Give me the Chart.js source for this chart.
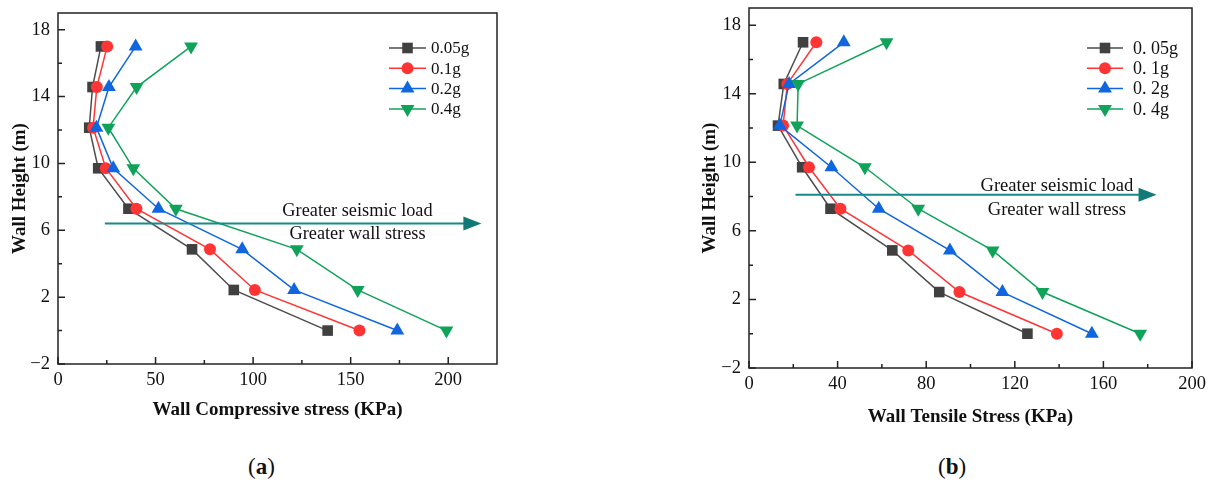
<!DOCTYPE html>
<html>
<head>
<meta charset="utf-8">
<script src="https://cdn.jsdelivr.net/npm/chart.js@4.4.1/dist/chart.umd.min.js"></script>
<style>
  body { margin: 0; background: #fff; width: 1222px; height: 488px; position: relative; overflow: hidden; font-family: "Liberation Serif", "Times New Roman", serif; }
  .box { position: absolute; top: 0; }
  .sub { position: absolute; top: 454px; font-size: 23px; color: #111; }
</style>
</head>
<body>
<div class="box" style="left:0"><canvas id="chartA" width="512" height="425"></canvas></div>
<div class="box" style="left:690px"><canvas id="chartB" width="532" height="432"></canvas></div>
<div class="sub" style="left:248px">(<b>a</b>)</div>
<div class="sub" style="left:938px">(<b>b</b>)</div>
<script>
// wall heights (m), top of wall first
const heights = [17, 14.57, 12.14, 9.71, 7.29, 4.86, 2.43, 0];

// (a) compressive stress, KPa
const namesA = ['0.05g', '0.1g', '0.2g', '0.4g'];
const compA005 = [22.0, 17.7, 16.0, 20.6, 36.1, 68.7, 90.1, 138.2];
const compA01 = [25.2, 19.9, 18.0, 24.5, 40.2, 77.9, 100.9, 154.5];
const compA02 = [39.8, 26.1, 19.7, 28.3, 51.5, 94.4, 121.0, 173.9];
const compA04 = [68.2, 40.3, 25.8, 38.6, 60.4, 122.4, 153.6, 199.1];

// (b) tensile stress, KPa
const namesB = ['0. 05g', '0. 1g', '0. 2g', '0. 4g'];
const tensB005 = [24.4, 15.7, 13.1, 24.0, 36.8, 64.7, 85.9, 125.7];
const tensB01 = [30.4, 17.3, 15.4, 27.1, 41.3, 71.9, 95.0, 139.0];
const tensB02 = [42.8, 18.1, 13.9, 37.2, 58.6, 90.7, 114.4, 154.8];
const tensB04 = [62.1, 22.2, 21.7, 52.3, 76.4, 110.0, 132.5, 176.6];

const yTicks = [-2, 2, 6, 10, 14, 18];
const xTicksA = [0, 50, 100, 150, 200];
const xTicksB = [0, 40, 80, 120, 160, 200];

const FONT = "'Liberation Serif', 'Times New Roman', serif";

const styles = [
    { color: '#404040', line: '#4d4d4d', point: 'rect', radius: 7.5, rot: 0 },
    { color: '#ff3535', line: '#ff3535', point: 'circle', radius: 6, rot: 0 },
    { color: '#0f66de', line: '#0f66de', point: 'triangle', radius: 8, rot: 0 },
    { color: '#0fa35a', line: '#0fa35a', point: 'triangle', radius: 8, rot: 180 }
];

const decor = {
    id: 'decor',
    afterDraw(chart, args, o) {
        const ctx = chart.ctx;
        const a = chart.chartArea;
        const xs = chart.scales.x, ys = chart.scales.y;
        ctx.save();
        // frame
        ctx.strokeStyle = '#222';
        ctx.lineWidth = 1.5;
        ctx.strokeRect(a.left, a.top, a.right - a.left, a.bottom - a.top);
        // inward ticks
        ctx.beginPath();
        o.xTicks.forEach((v) => {
            const px = xs.getPixelForValue(v);
            ctx.moveTo(px, a.bottom); ctx.lineTo(px, a.bottom - 7);
            const m = xs.getPixelForValue(v + o.xStep / 2);
            if (m < a.right) { ctx.moveTo(m, a.bottom); ctx.lineTo(m, a.bottom - 4); }
        });
        yTicks.forEach((v) => {
            const py = ys.getPixelForValue(v);
            ctx.moveTo(a.left, py); ctx.lineTo(a.left + 7, py);
            const m = ys.getPixelForValue(v + 2);
            if (m > a.top) { ctx.moveTo(a.left, m); ctx.lineTo(a.left + 4, m); }
        });
        ctx.stroke();

        // arrow
        const ay = ys.getPixelForValue(o.arrow.y);
        const ax0 = xs.getPixelForValue(o.arrow.x0);
        const ax1 = xs.getPixelForValue(o.arrow.x1);
        ctx.strokeStyle = '#16898a';
        ctx.lineWidth = 2;
        ctx.beginPath();
        ctx.moveTo(ax0, ay); ctx.lineTo(ax1 - 14, ay);
        ctx.stroke();
        ctx.fillStyle = '#127a76';
        ctx.beginPath();
        ctx.moveTo(ax1, ay); ctx.lineTo(ax1 - 18, ay - 7); ctx.lineTo(ax1 - 18, ay + 7);
        ctx.closePath(); ctx.fill();
        ctx.fillStyle = '#111';
        ctx.font = o.arrow.size + 'px ' + FONT;
        ctx.textAlign = 'center';
        ctx.textBaseline = 'middle';
        const tx = xs.getPixelForValue(o.arrow.tx);
        ctx.fillText('Greater seismic load', tx, ay + o.arrow.d1);
        ctx.fillText('Greater wall stress', tx, ay + o.arrow.d2);

        // legend
        const L = o.legend;
        ctx.textAlign = 'left';
        ctx.font = L.size + 'px ' + FONT;
        chart.data.datasets.forEach((ds, i) => {
            const y = a.top + L.top + i * L.gap;
            const x0 = a.right + L.x0, x1 = a.right + L.x1;
            ctx.strokeStyle = ds.borderColor;
            ctx.lineWidth = 1.5;
            ctx.beginPath(); ctx.moveTo(x0, y); ctx.lineTo(x1, y); ctx.stroke();
            ctx.fillStyle = ds.backgroundColor;
            ctx.strokeStyle = ds.backgroundColor;
            Chart.helpers.drawPoint(ctx, {
                pointStyle: ds.pointStyle, radius: ds.pointRadius,
                rotation: ds.pointRotation, borderWidth: 0
            }, (x0 + x1) / 2, y);
            ctx.fillStyle = '#111';
            ctx.fillText(ds.label, a.right + L.tx, y + 1);
        });
        ctx.restore();
    }
};

function makeChart(id, names, series, cfg) {
    const datasets = series.map((vals, i) => ({
        label: names[i],
        data: vals.map((v, k) => ({ x: v, y: heights[k] })),
        showLine: true,
        borderColor: styles[i].line,
        backgroundColor: styles[i].color,
        borderWidth: 1.5,
        pointStyle: styles[i].point,
        pointRadius: styles[i].radius,
        pointRotation: styles[i].rot,
        pointBorderWidth: 0,
        pointHoverRadius: styles[i].radius,
        tension: 0,
        order: series.length - i
    }));
    return new Chart(document.getElementById(id), {
        type: 'scatter',
        data: { datasets },
        options: {
            responsive: false,
            animation: false,
            events: [],
            layout: { padding: { top: cfg.padTop, right: cfg.padRight, left: 0, bottom: 0 } },
            plugins: { legend: { display: false }, tooltip: { enabled: false }, decor: cfg.decor },
            scales: {
                x: {
                    type: 'linear', min: 0, max: cfg.xMax,
                    grid: { display: false, drawTicks: false },
                    border: { display: false },
                    afterBuildTicks: (s) => { s.ticks = cfg.xTicks.map(v => ({ value: v })); },
                    afterFit: (s) => { s.height = cfg.xHeight; s.paddingLeft = 0; s.paddingRight = 0; },
                    ticks: { color: '#111', font: { family: FONT, size: 18.5 }, padding: 5, maxRotation: 0 },
                    title: { display: true, text: cfg.xTitle, color: '#111', font: { family: FONT, size: 19, weight: 'bold' }, padding: { top: 0, bottom: 3.6 } }
                },
                y: {
                    type: 'linear', min: -2, max: 19,
                    grid: { display: false, drawTicks: false },
                    border: { display: false },
                    afterBuildTicks: (s) => { s.ticks = yTicks.map(v => ({ value: v })); },
                    afterFit: (s) => { s.width = cfg.yWidth; s.paddingTop = 0; s.paddingBottom = 0; },
                    ticks: {
                        color: '#111', font: { family: FONT, size: 18.5 }, padding: 8,
                        callback: (v) => v < 0 ? '\u2212' + Math.abs(v) : String(v)
                    },
                    title: { display: true, text: 'Wall Height (m)', color: '#111', font: { family: FONT, size: 19, weight: 'bold' }, padding: { top: 8.6, bottom: 0 } }
                }
            }
        },
        plugins: [decor]
    });
}

makeChart('chartA', namesA, [compA005, compA01, compA02, compA04], {
    padTop: 13, padRight: 15, xMax: 225, xTicks: xTicksA, xHeight: 61, yWidth: 58,
    xTitle: 'Wall Compressive stress (KPa)',
    decor: {
        xTicks: xTicksA, xStep: 50,
        arrow: { x0: 24, x1: 217, y: 6.4, tx: 153.5, d1: -12.5, d2: 10.5, size: 18.3 },
        legend: { x0: -108, x1: -71, tx: -66, top: 35, gap: 20.3, size: 17 }
    }
});

makeChart('chartB', namesB, [tensB005, tensB01, tensB02, tensB04], {
    padTop: 7, padRight: 30, xMax: 200, xTicks: xTicksB, xHeight: 64, yWidth: 59,
    xTitle: 'Wall Tensile Stress (KPa)',
    decor: {
        xTicks: xTicksB, xStep: 40,
        arrow: { x0: 21, x1: 184, y: 8.1, tx: 139, d1: -9, d2: 15, size: 18.6 },
        legend: { x0: -105, x1: -69, tx: -59, top: 40, gap: 20.3, size: 18 }
    }
});
</script>
</body>
</html>
